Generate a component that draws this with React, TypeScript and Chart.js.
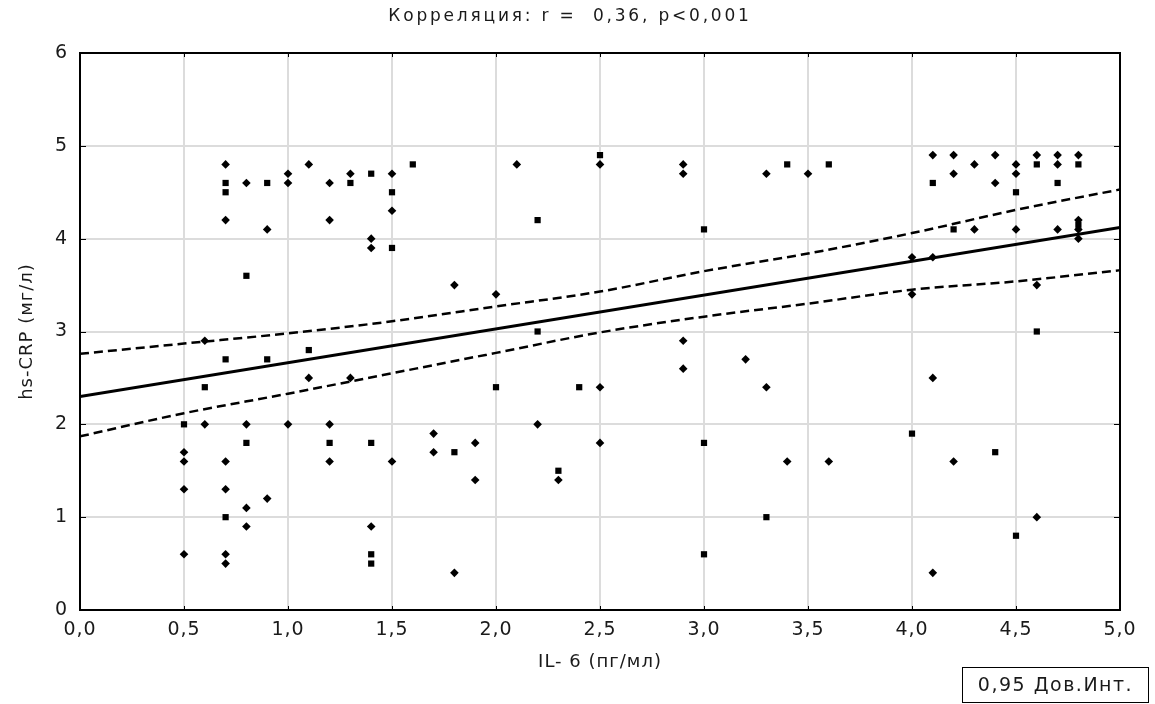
import React, { useEffect, useRef } from "react";
import { Chart, registerables } from "chart.js";

Chart.register(...registerables);

// Square-looking markers
const sqX = [0.7, 0.7, 0.9, 0.8, 0.7, 0.9, 1.1, 1.3, 1.4, 1.5, 1.6, 1.5, 2.2, 2.5, 3.0, 3.4, 3.6, 4.1, 4.6, 4.7, 4.8, 4.2, 4.5, 4.6, 0.6, 0.5, 0.8, 1.2, 0.7, 2.0, 2.4, 1.4, 1.8, 2.3, 1.4, 1.4, 3.0, 3.3, 3.0, 4.4, 4.5, 4.0, 2.2, 4.8];
const sqY = [4.6, 4.5, 4.6, 3.6, 2.7, 2.7, 2.8, 4.6, 4.7, 4.5, 4.8, 3.9, 4.2, 4.9, 4.1, 4.8, 4.8, 4.6, 4.8, 4.6, 4.8, 4.1, 4.5, 3.0, 2.4, 2.0, 1.8, 1.8, 1.0, 2.4, 2.4, 1.8, 1.7, 1.5, 0.6, 0.5, 1.8, 1.0, 0.6, 1.7, 0.8, 1.9, 3.0, 4.15];

// Diamond-looking markers
const dmX = [0.7, 0.8, 1.0, 1.0, 1.1, 1.2, 0.7, 0.9, 1.2, 0.6, 1.1, 1.3, 1.5, 1.5, 1.4, 1.4, 1.8, 2.0, 2.1, 2.5, 1.3, 2.9, 2.9, 3.3, 3.5, 2.9, 2.9, 3.2, 4.1, 4.2, 4.3, 4.4, 4.5, 4.5, 4.6, 4.7, 4.7, 4.8, 4.2, 4.4, 4.3, 4.5, 4.7, 4.8, 4.8, 4.8, 4.0, 4.1, 4.0, 4.6, 4.1, 0.6, 0.8, 1.0, 1.2, 1.2, 0.5, 0.5, 0.7, 0.5, 0.7, 0.9, 0.8, 0.8, 0.5, 0.7, 0.7, 2.5, 1.5, 1.7, 1.7, 1.9, 1.9, 2.2, 2.3, 2.5, 1.4, 1.8, 3.3, 3.4, 3.6, 4.2, 4.6, 4.1];
const dmY = [4.8, 4.6, 4.7, 4.6, 4.8, 4.6, 4.2, 4.1, 4.2, 2.9, 2.5, 4.7, 4.7, 4.3, 4.0, 3.9, 3.5, 3.4, 4.8, 4.8, 2.5, 4.8, 4.7, 4.7, 4.7, 2.9, 2.6, 2.7, 4.9, 4.9, 4.8, 4.9, 4.8, 4.7, 4.9, 4.9, 4.8, 4.9, 4.7, 4.6, 4.1, 4.1, 4.1, 4.2, 4.1, 4.0, 3.8, 3.8, 3.4, 3.5, 2.5, 2.0, 2.0, 2.0, 2.0, 1.6, 1.7, 1.6, 1.6, 1.3, 1.3, 1.2, 1.1, 0.9, 0.6, 0.6, 0.5, 2.4, 1.6, 1.9, 1.7, 1.8, 1.4, 2.0, 1.4, 1.8, 0.9, 0.4, 2.4, 1.6, 1.6, 1.6, 1.0, 0.4];

// Regression line and 0.95 confidence band
const fitX = [0, 5];
const fitY = [2.3, 4.12];
const ciX = [0, 0.5, 1.0, 1.5, 2.0, 2.5, 3.0, 3.5, 4.0, 4.5, 5.0];
const ciUpper = [2.76, 2.87, 2.98, 3.11, 3.27, 3.43, 3.65, 3.84, 4.06, 4.31, 4.53];
const ciLower = [1.87, 2.12, 2.33, 2.55, 2.77, 2.99, 3.16, 3.30, 3.45, 3.54, 3.66];

const xTicks = [0, 0.5, 1, 1.5, 2, 2.5, 3, 3.5, 4, 4.5, 5];
const yTicks = [0, 1, 2, 3, 4, 5, 6];

const titleText = "Корреляция: r =  0,36, p<0,001";
const xTitle = "IL- 6 (пг/мл)";
const yTitle = "hs-CRP (мг/л)";
const legendText = "0,95 Дов.Инт.";

const FONT = "'DejaVu Sans', 'Liberation Sans', sans-serif";
const TEXT_COLOR = "#1a1a1a";

const pts = (xs: number[], ys: number[]) => xs.map((x, i) => ({ x, y: ys[i] }));

const spacingPlugin = {
  id: "spacing",
  beforeDraw(chart: any) {
    chart.ctx.letterSpacing = "1px";
  },
};

const titlePlugin = {
  id: "customTitle",
  afterDraw(chart: any) {
    const ctx = chart.ctx;
    ctx.save();
    ctx.letterSpacing = "2.8px";
    ctx.font = `17px ${FONT}`;
    ctx.fillStyle = TEXT_COLOR;
    ctx.textAlign = "center";
    ctx.textBaseline = "middle";
    ctx.fillText(titleText, 570, 17);
    ctx.restore();
  },
};

const framePlugin = {
  id: "frame",
  afterDatasetsDraw(chart: any) {
    const { ctx, chartArea: a, scales } = chart;
    ctx.save();
    ctx.strokeStyle = "#000";
    ctx.lineWidth = 1;
    ctx.beginPath();
    for (const v of xTicks) {
      const px = Math.round(scales.x.getPixelForValue(v)) + 0.5;
      ctx.moveTo(px, a.bottom);
      ctx.lineTo(px, a.bottom - 4);
      ctx.moveTo(px, a.top);
      ctx.lineTo(px, a.top + 4);
    }
    for (const v of yTicks) {
      const py = Math.round(scales.y.getPixelForValue(v)) + 0.5;
      ctx.moveTo(a.left, py);
      ctx.lineTo(a.left + 6, py);
      ctx.moveTo(a.right, py);
      ctx.lineTo(a.right - 6, py);
    }
    ctx.stroke();
    ctx.lineWidth = 2;
    ctx.strokeRect(a.left, a.top, a.right - a.left, a.bottom - a.top);
    ctx.restore();
  },
};

export default function App() {
  const ref = useRef<HTMLCanvasElement | null>(null);

  useEffect(() => {
    if (!ref.current) return;
    const chart = new Chart(ref.current, {
      type: "scatter",
      data: {
        datasets: [
          {
            label: "fit",
            data: pts(fitX, fitY),
            showLine: true,
            borderColor: "#000",
            borderWidth: 3,
            pointRadius: 0,
            order: 3,
          },
          {
            label: "upper",
            data: pts(ciX, ciUpper),
            showLine: true,
            borderColor: "#000",
            borderWidth: 2.5,
            borderDash: [9, 5],
            pointRadius: 0,
            cubicInterpolationMode: "monotone",
            order: 3,
          },
          {
            label: "lower",
            data: pts(ciX, ciLower),
            showLine: true,
            borderColor: "#000",
            borderWidth: 2.5,
            borderDash: [9, 5],
            pointRadius: 0,
            cubicInterpolationMode: "monotone",
            order: 3,
          },
          {
            label: "sq",
            data: pts(sqX, sqY),
            pointStyle: "rect",
            pointRadius: 4.4,
            backgroundColor: "#000",
            borderColor: "#000",
            borderWidth: 0,
            order: 1,
          },
          {
            label: "dm",
            data: pts(dmX, dmY),
            pointStyle: "rectRot",
            pointRadius: 4.3,
            backgroundColor: "#000",
            borderColor: "#000",
            borderWidth: 0,
            order: 1,
          },
        ],
      },
      options: {
        animation: false,
        responsive: false,
        layout: { padding: { left: 0, right: 35, top: 53, bottom: 0 } },
        plugins: {
          legend: { display: false },
          tooltip: { enabled: false },
          title: { display: false },
        },
        scales: {
          x: {
            type: "linear",
            min: 0,
            max: 5,
            afterFit: (s: any) => {
              s.height = 94;
            },
            afterBuildTicks: (s: any) => {
              s.ticks = xTicks.map((v) => ({ value: v }));
            },
            ticks: {
              color: TEXT_COLOR,
              font: { family: FONT, size: 19 },
              padding: 9,
              maxRotation: 0,
              callback: (v: any) => Number(v).toFixed(1).replace(".", ","),
            },
            grid: { color: "#dcdcdc", lineWidth: 2, drawTicks: false },
            border: { display: false },
            title: {
              display: true,
              text: xTitle,
              color: TEXT_COLOR,
              font: { family: FONT, size: 18 },
              padding: { top: 0, bottom: 31 },
            },
          },
          y: {
            type: "linear",
            min: 0,
            max: 6,
            afterFit: (s: any) => {
              s.width = 80;
            },
            afterBuildTicks: (s: any) => {
              s.ticks = yTicks.map((v) => ({ value: v }));
            },
            ticks: {
              color: TEXT_COLOR,
              font: { family: FONT, size: 19 },
              padding: 12,
              callback: (v: any) => String(v),
            },
            grid: { color: "#dcdcdc", lineWidth: 2, drawTicks: false },
            border: { display: false },
            title: {
              display: true,
              text: yTitle,
              color: TEXT_COLOR,
              font: { family: FONT, size: 18 },
              padding: { top: 17, bottom: 0 },
            },
          },
        },
      },
      plugins: [spacingPlugin, framePlugin, titlePlugin],
    });
    return () => chart.destroy();
  }, []);

  return (
    <div style={{ position: "absolute", left: 0, top: 0, width: 1155, height: 704, background: "#fff" }}>
      <canvas ref={ref} width={1155} height={704} style={{ display: "block" }} />
      <div
        style={{
          position: "absolute",
          left: 962,
          top: 667,
          width: 187,
          height: 36,
          border: "1.5px solid #000",
          boxSizing: "border-box",
          fontFamily: FONT,
          fontSize: 19,
          letterSpacing: "1.5px",
          lineHeight: "33px",
          textAlign: "center",
          color: TEXT_COLOR,
          whiteSpace: "nowrap",
        }}
      >
        {legendText}
      </div>
    </div>
  );
}
